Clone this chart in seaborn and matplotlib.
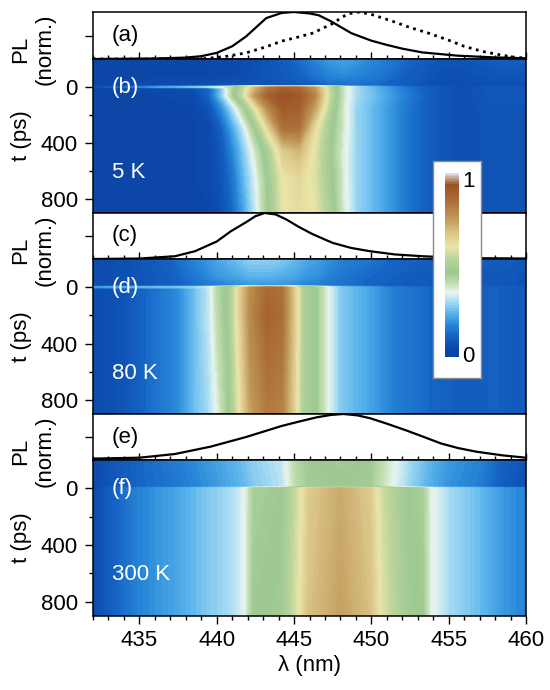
import numpy as np
import matplotlib
matplotlib.use("Agg")
import matplotlib.pyplot as plt
from matplotlib.colors import LinearSegmentedColormap
from matplotlib.ticker import MultipleLocator, FixedLocator
import seaborn as sns

sns.set_style("ticks")
plt.rcParams['font.family'] = ['Liberation Sans', 'DejaVu Sans']
plt.rcParams.update({'text.color': 'black', 'axes.labelcolor': 'black',
                     'xtick.color': 'black', 'ytick.color': 'black'})

# ---- PL spectra (normalised) (a), (c), (e) ----
wl_a_solid = [432, 436, 438, 439, 440, 441, 441.9, 442.5, 443.2, 444.2, 445, 446, 446.6, 447.4,
              448.7, 450, 451, 452, 453.3, 455.6, 457.9, 460]
pl_a_solid = [0.0, 0.01, 0.03, 0.06, 0.13, 0.27, 0.48, 0.66, 0.87, 0.98, 1.0, 0.97, 0.93, 0.8,
              0.55, 0.39, 0.3, 0.22, 0.14, 0.07, 0.035, 0.015]
wl_a_dot = [432, 438, 439.3, 440.7, 441.9, 443.2, 444.2, 445.3, 446.2, 447.6, 448, 448.5, 449.1,
            449.9, 451.4, 452.5, 453.7, 455, 456, 457.2, 458.3, 459.2, 460]
pl_a_dot = [0.0, 0.0, 0.01, 0.06, 0.13, 0.26, 0.38, 0.47, 0.55, 0.77, 0.87, 0.96, 1.0,
            0.96, 0.8, 0.67, 0.55, 0.4, 0.27, 0.16, 0.09, 0.04, 0.02]
wl_c = [432, 435, 437.3, 438.6, 440, 440.9, 441.9, 442.5, 443.1, 443.8, 444.5, 445.3, 446.2,
        447.5, 448.7, 449.9, 451.5, 453.3, 456, 460]
pl_c = [0.0, 0.01, 0.06, 0.17, 0.38, 0.6, 0.8, 0.93, 1.0, 0.97, 0.86, 0.7, 0.54,
        0.35, 0.24, 0.17, 0.1, 0.06, 0.02, 0.01]
wl_e = [432, 435, 437.3, 439.6, 441.9, 444.2, 445.5, 446.5, 447.4, 448.2, 449.1, 449.9, 451,
        452.2, 453.4, 454.5, 455.6, 456.8, 458.5, 460]
pl_e = [0.03, 0.05, 0.13, 0.29, 0.5, 0.74, 0.85, 0.93, 0.98, 1.0, 0.97, 0.91, 0.79,
        0.65, 0.5, 0.36, 0.26, 0.18, 0.1, 0.05]

# ---- streak maps (normalised intensity), rows = time (ps), cols = wavelength (nm) ----
wl_b = [432, 436, 438.5, 439.5, 440.3, 441, 441.8, 442.5, 443.3, 444.3, 445.3, 446.3, 447.3,
        448.2, 449, 450.5, 452.5, 454.5, 456, 458, 460]
t_b = [-200, -80, -10, 0, 8, 60, 150, 300, 450, 650, 900]
map_b = [
    [0.04, 0.04, 0.04, 0.04, 0.05, 0.05, 0.06, 0.07, 0.08, 0.10, 0.13, 0.17, 0.20, 0.21, 0.20, 0.17, 0.12, 0.08, 0.08, 0.10, 0.10],
    [0.04, 0.04, 0.04, 0.04, 0.05, 0.05, 0.06, 0.07, 0.08, 0.09, 0.11, 0.14, 0.17, 0.18, 0.17, 0.15, 0.10, 0.07, 0.07, 0.08, 0.08],
    [0.04, 0.05, 0.06, 0.07, 0.08, 0.08, 0.08, 0.08, 0.08, 0.08, 0.09, 0.10, 0.12, 0.13, 0.13, 0.12, 0.09, 0.06, 0.06, 0.07, 0.07],
    [0.06, 0.20, 0.26, 0.30, 0.34, 0.42, 0.54, 0.64, 0.72, 0.76, 0.74, 0.66, 0.52, 0.38, 0.30, 0.22, 0.13, 0.08, 0.07, 0.08, 0.08],
    [0.04, 0.05, 0.07, 0.12, 0.26, 0.42, 0.56, 0.70, 0.82, 0.88, 0.86, 0.76, 0.54, 0.38, 0.30, 0.23, 0.14, 0.08, 0.07, 0.09, 0.09],
    [0.04, 0.04, 0.05, 0.12, 0.27, 0.43, 0.58, 0.76, 0.88, 0.94, 0.91, 0.80, 0.55, 0.38, 0.30, 0.24, 0.15, 0.08, 0.07, 0.09, 0.09],
    [0.04, 0.04, 0.04, 0.08, 0.18, 0.30, 0.45, 0.60, 0.78, 0.90, 0.89, 0.74, 0.52, 0.37, 0.29, 0.23, 0.14, 0.08, 0.07, 0.08, 0.08],
    [0.04, 0.04, 0.04, 0.05, 0.11, 0.21, 0.33, 0.46, 0.62, 0.84, 0.84, 0.62, 0.48, 0.37, 0.29, 0.23, 0.14, 0.08, 0.07, 0.08, 0.08],
    [0.04, 0.04, 0.04, 0.05, 0.09, 0.17, 0.28, 0.38, 0.50, 0.66, 0.70, 0.59, 0.47, 0.36, 0.29, 0.23, 0.14, 0.08, 0.07, 0.08, 0.08],
    [0.04, 0.04, 0.04, 0.05, 0.08, 0.14, 0.25, 0.34, 0.46, 0.60, 0.63, 0.58, 0.48, 0.36, 0.29, 0.23, 0.14, 0.08, 0.07, 0.08, 0.08],
    [0.04, 0.04, 0.04, 0.04, 0.07, 0.12, 0.22, 0.32, 0.45, 0.60, 0.62, 0.60, 0.50, 0.37, 0.29, 0.23, 0.14, 0.08, 0.07, 0.08, 0.08],
]

wl_d = [432, 434, 436, 437.5, 438.5, 439.5, 440.1, 440.8, 441.4, 442.2, 443.3, 444.2, 445.0,
        445.6, 446.4, 447.2, 448.0, 449.5, 451.5, 454, 456, 458, 460]
t_d = [-200, -80, -10, 0, 8, 200, 500, 900]
map_d = [
    [0.06, 0.07, 0.10, 0.13, 0.17, 0.20, 0.22, 0.24, 0.26, 0.28, 0.28, 0.27, 0.25, 0.23, 0.21, 0.19, 0.17, 0.15, 0.12, 0.10, 0.09, 0.10, 0.09],
    [0.06, 0.07, 0.09, 0.12, 0.15, 0.18, 0.20, 0.21, 0.22, 0.24, 0.24, 0.23, 0.22, 0.20, 0.19, 0.17, 0.15, 0.13, 0.11, 0.09, 0.08, 0.09, 0.08],
    [0.06, 0.07, 0.09, 0.11, 0.13, 0.15, 0.16, 0.17, 0.18, 0.19, 0.19, 0.19, 0.18, 0.17, 0.16, 0.15, 0.14, 0.12, 0.10, 0.09, 0.08, 0.09, 0.08],
    [0.20, 0.23, 0.25, 0.26, 0.28, 0.33, 0.40, 0.46, 0.56, 0.70, 0.78, 0.76, 0.60, 0.48, 0.44, 0.33, 0.26, 0.21, 0.14, 0.11, 0.10, 0.10, 0.09],
    [0.06, 0.08, 0.14, 0.18, 0.25, 0.32, 0.42, 0.48, 0.62, 0.78, 0.86, 0.84, 0.66, 0.50, 0.46, 0.35, 0.27, 0.23, 0.16, 0.12, 0.10, 0.11, 0.09],
    [0.06, 0.08, 0.14, 0.18, 0.25, 0.32, 0.41, 0.48, 0.62, 0.79, 0.88, 0.85, 0.66, 0.50, 0.46, 0.35, 0.27, 0.23, 0.16, 0.12, 0.10, 0.11, 0.09],
    [0.06, 0.08, 0.14, 0.18, 0.25, 0.31, 0.39, 0.47, 0.60, 0.77, 0.85, 0.83, 0.65, 0.50, 0.46, 0.35, 0.27, 0.23, 0.16, 0.12, 0.10, 0.11, 0.09],
    [0.06, 0.08, 0.14, 0.18, 0.25, 0.30, 0.36, 0.46, 0.58, 0.74, 0.82, 0.80, 0.64, 0.50, 0.46, 0.35, 0.27, 0.23, 0.16, 0.12, 0.10, 0.11, 0.09],
]

wl_f = [432, 433, 435, 437.5, 439.5, 441.2, 441.9, 442.4, 444.2, 445.2, 446.0, 448.0, 449.9,
        450.7, 452.4, 453.3, 453.8, 455, 457, 458.5, 460]
t_f = [-200, -10, 0, 900]
map_f = [
    [0.05, 0.08, 0.12, 0.16, 0.20, 0.24, 0.26, 0.28, 0.32, 0.42, 0.46, 0.47, 0.46, 0.40, 0.30, 0.26, 0.24, 0.20, 0.17, 0.11, 0.08],
    [0.05, 0.08, 0.12, 0.15, 0.19, 0.23, 0.25, 0.27, 0.31, 0.41, 0.45, 0.46, 0.45, 0.39, 0.29, 0.25, 0.23, 0.19, 0.16, 0.10, 0.07],
    [0.05, 0.10, 0.17, 0.22, 0.27, 0.31, 0.36, 0.44, 0.46, 0.56, 0.66, 0.72, 0.66, 0.56, 0.46, 0.44, 0.36, 0.30, 0.25, 0.20, 0.17],
    [0.05, 0.10, 0.17, 0.22, 0.27, 0.31, 0.36, 0.46, 0.47, 0.58, 0.68, 0.74, 0.68, 0.58, 0.47, 0.46, 0.36, 0.30, 0.25, 0.20, 0.17],
]

temps = ["5 K", "80 K", "300 K"]
x_ticks = [435, 440, 445, 450, 455, 460]
t_ticks = [0, 400, 800]

cmap_stops = [0.0, 0.06, 0.12, 0.18, 0.24, 0.30, 0.35, 0.40, 0.46, 0.53, 0.60, 0.68, 0.76, 0.86, 0.94, 0.98, 1.0]
cmap_cols = ['#0a41a0', '#0d4cae', '#1565c6', '#2a8ad9', '#5cb5ec', '#a8dcf3', '#e8f4f0',
             '#c0deb0', '#9ec892', '#b7d39a', '#ebe5a8', '#d8c184', '#bf9656', '#a86a34',
             '#9a5028', '#c8b0a0', '#e6e6f0']
cmap = LinearSegmentedColormap.from_list('streak', list(zip(cmap_stops, cmap_cols)))
levels = np.linspace(0, 1, 121)

FS = 16
W, H = 550, 690
fig = plt.figure(figsize=(W / 100, H / 100), dpi=100)
fig.patch.set_facecolor('white')

L, R = 93, 526
def add(top, bot):
    return fig.add_axes([L / W, 1 - bot / H, (R - L) / W, (bot - top) / H])

rows = [(12, 59), (59, 213), (213, 259), (259, 414), (414, 460), (460, 616)]
axes = [add(t, b) for t, b in rows]

pl_sets = [
    [(wl_a_solid, pl_a_solid, '-'), (wl_a_dot, pl_a_dot, ':')],
    [(wl_c, pl_c, '-')],
    [(wl_e, pl_e, '-')],
]
maps = [(wl_b, t_b, map_b), (wl_d, t_d, map_d), (wl_f, t_f, map_f)]
letters = ['(a)', '(b)', '(c)', '(d)', '(e)', '(f)']

for i in range(3):
    ax = axes[2 * i]
    for xs, ys, ls in pl_sets[i]:
        sns.lineplot(x=xs, y=ys, ax=ax, color='black', linestyle=ls,
                     linewidth=2.0 if ls == ':' else 1.6, estimator=None, sort=False)
    ax.set_xlim(432, 460)
    ax.set_ylim(0, 1.0)
    ax.xaxis.set_major_locator(MultipleLocator(5))
    ax.xaxis.set_minor_locator(MultipleLocator(1))
    ax.tick_params(axis='x', which='major', direction='in', length=5, width=1, labelbottom=False)
    ax.tick_params(axis='x', which='minor', direction='in', length=3, width=1)
    ax.yaxis.set_major_locator(FixedLocator([0.5]))
    ax.tick_params(axis='y', which='major', direction='out', length=5.5, width=1, labelleft=False)
    ax.text(433.2, 0.5, letters[2 * i], fontsize=FS, va='center', ha='left', color='black')

    hx = axes[2 * i + 1]
    wl, tt, z = maps[i]
    cs = hx.contourf(wl, tt, np.array(z), levels=levels, cmap=cmap, vmin=0, vmax=1)
    cs.set_edgecolor('face')
    cs.set_linewidth(0.4)
    hx.set_xlim(432, 460)
    hx.set_ylim(900, -200)
    hx.yaxis.set_major_locator(FixedLocator(t_ticks))
    hx.yaxis.set_minor_locator(FixedLocator([200, 600]))
    hx.tick_params(axis='y', which='major', direction='out', length=5.8, width=1, labelsize=FS, pad=5)
    hx.tick_params(axis='y', which='minor', direction='out', length=3, width=1)
    hx.text(433.2, 0, letters[2 * i + 1], fontsize=FS, va='center', ha='left', color='white')
    hx.text(433.2, 610, temps[i], fontsize=FS, va='center', ha='left', color='white')
    if i < 2:
        hx.set_xticks([])
    else:
        hx.xaxis.set_major_locator(FixedLocator(x_ticks))
        hx.xaxis.set_minor_locator(MultipleLocator(1))
        hx.tick_params(axis='x', which='major', direction='out', length=5.8, width=1, labelsize=FS, pad=4)
        hx.tick_params(axis='x', which='minor', direction='out', length=3, width=1)
        hx.set_xlabel('λ (nm)', fontsize=FS, labelpad=3)

    for a in (ax, hx):
        for s in a.spines.values():
            s.set_linewidth(1.1)
            s.set_color('black')
        a.set_ylabel('')

    # left-side labels
    pl_mid = (rows[2 * i][0] + rows[2 * i][1]) / 2 + 14
    fig.text(33 / W, 1 - pl_mid / H, 'PL\n(norm.)', rotation=90, fontsize=FS,
             ha='center', va='center', linespacing=1.2)
    t_mid = (rows[2 * i + 1][0] + rows[2 * i + 1][1]) / 2
    fig.text(22 / W, 1 - t_mid / H, 't (ps)', rotation=90, fontsize=FS, ha='center', va='center')

# colour bar in a white box over panels (b)-(d)
box = fig.add_axes([433 / W, 1 - 378 / H, 48 / W, 217 / H])
box.set_xticks([])
box.set_yticks([])
box.set_facecolor('white')
for s in box.spines.values():
    s.set_color('#8a8a8a')
    s.set_linewidth(1)
box.set_zorder(5)
cax = fig.add_axes([445 / W, 1 - 357 / H, 14 / W, 184 / H])
cax.set_zorder(6)
cb = fig.colorbar(cs, cax=cax, ticks=[])
cb.outline.set_visible(False)
box.text(0.74, 0.905, '1', transform=box.transAxes, fontsize=FS, ha='center', va='center')
box.text(0.74, 0.10, '0', transform=box.transAxes, fontsize=FS, ha='center', va='center')

fig.savefig('out.png', dpi=100, facecolor='white')
